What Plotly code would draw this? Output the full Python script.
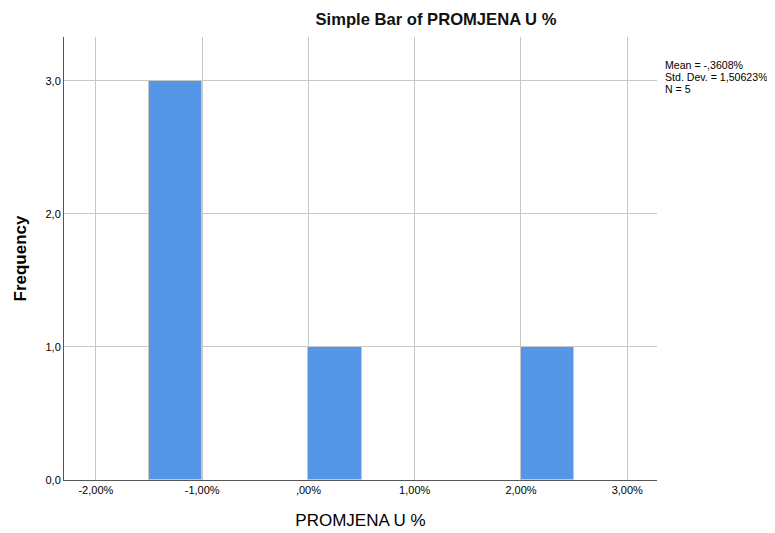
import plotly.graph_objects as go

bin_centers = [-1.25, 0.25, 2.25]
frequencies = [3, 1, 1]
bin_width = 0.5
x_tick_vals = [-2, -1, 0, 1, 2, 3]
x_tick_text = ["-2,00%", "-1,00%", ",00%", "1,00%", "2,00%", "3,00%"]
y_tick_vals = [0, 1, 2, 3]
y_tick_text = ["0,0", "1,0", "2,0", "3,0"]
stats_lines = ["Mean = -,3608%", "Std. Dev. = 1,50623%", "N = 5"]

fig = go.Figure()
fig.add_trace(go.Bar(
    x=bin_centers, y=frequencies, width=[bin_width] * len(bin_centers),
    marker=dict(color="#5597E6", line=dict(color="#c8c8c8", width=1)),
    showlegend=False,
))

W, H = 775, 533
fig.update_layout(
    width=W, height=H,
    margin=dict(l=54, r=126, t=29, b=61),
    paper_bgcolor="white", plot_bgcolor="white",
    font=dict(family="Liberation Sans, Arial, sans-serif", color="#000"),
    title=dict(text="<b>Simple Bar of PROMJENA U %</b>", xref="container",
               x=428 / W, xanchor="center",
               y=1 - 11 / H, yanchor="middle",
               font=dict(size=16.6, color="#111")),
    xaxis=dict(
        range=[-2.3, 3.28], tickvals=x_tick_vals, ticktext=x_tick_text,
        showgrid=True, gridcolor="#c8c8c8", gridwidth=1,
        showline=True, linecolor="#555", linewidth=1,
        ticks="", tickfont=dict(size=11), zeroline=False,
        title=dict(text="PROMJENA U %", font=dict(size=17), standoff=18),
    ),
    yaxis=dict(
        range=[0, 3.33], tickvals=y_tick_vals, ticktext=y_tick_text,
        showgrid=True, gridcolor="#c8c8c8", gridwidth=1,
        showline=True, linecolor="#555", linewidth=1,
        ticks="", tickfont=dict(size=11), zeroline=False,
        title=dict(text="<b>Frequency</b>", font=dict(size=17), standoff=14),
    ),
    bargap=0,
)

for i, line in enumerate(stats_lines):
    fig.add_annotation(
        text=line, xref="paper", yref="paper",
        x=1.01, y=(415 - 12 * i) / 443,
        xanchor="left", yanchor="middle", align="left",
        showarrow=False, font=dict(size=10.6),
    )

fig.write_html("out.html")
